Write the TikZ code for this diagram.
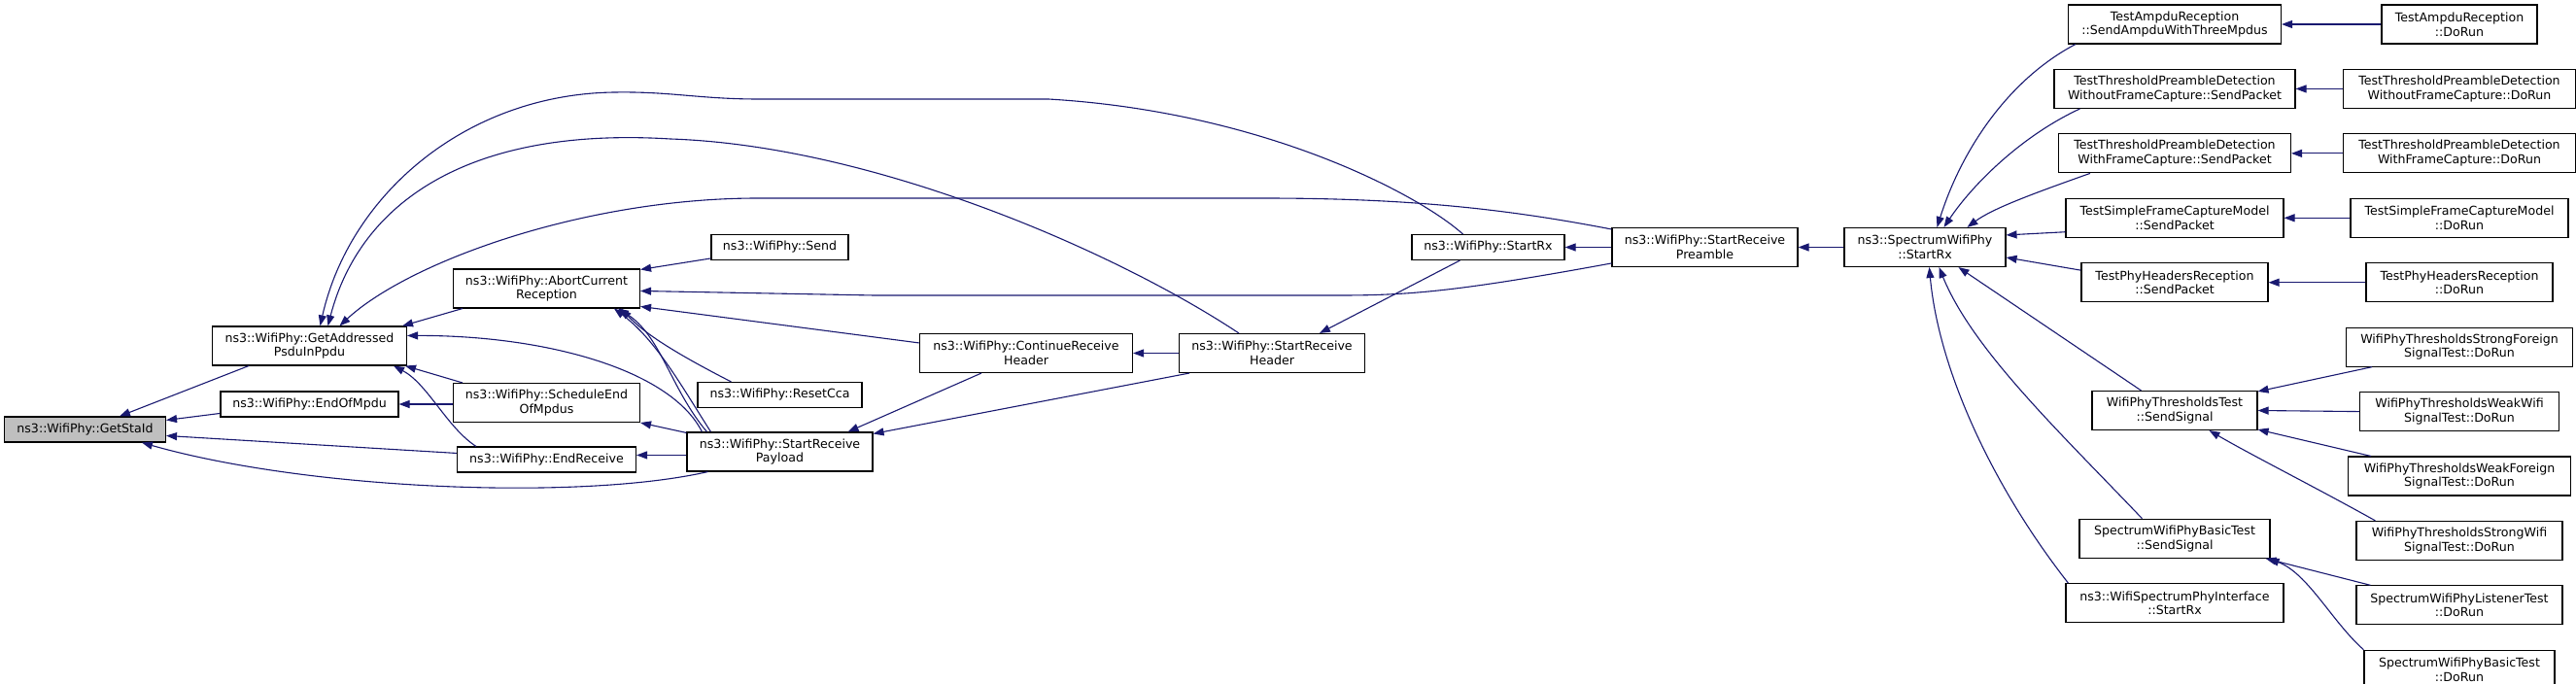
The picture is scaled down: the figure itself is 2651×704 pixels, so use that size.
\documentclass[tikz,border=0pt]{standalone}
\usepackage{fontspec}
\setmainfont{DejaVu Sans}
\usetikzlibrary{arrows.meta,positioning}
\definecolor{edgeblue}{HTML}{191970}
\definecolor{focusgray}{HTML}{BFBFBF}

\begin{document}
\begin{tikzpicture}[x=1pt, y=-1pt, node distance=25.33pt,
  fn/.style={draw=black, line width=1.1pt, fill=white, rectangle, inner sep=0pt, align=center,
    minimum height=26pt, minimum width=#1, font=\fontsize{12.6pt}{14.7pt}\selectfont},
  fn2/.style={fn=#1, minimum height=40pt},
  calls/.style={->, >={Triangle[length=11pt,width=8pt]}, draw=edgeblue, line width=1.1pt}]
  \useasboundingbox (0,0) rectangle (2651,704);

  % ns3::WifiPhy side
  \node[fn=166pt, fill=focusgray] (sta) at (87.5,442) {ns3::WifiPhy::GetStaId};
  \node[fn2=200pt] (gap) at (318.5,356) {ns3::WifiPhy::GetAddressed\\PsduInPpdu};
  \node[fn=183pt] (eom) at (318.5,416) {ns3::WifiPhy::EndOfMpdu};
  \node[fn2=192pt] (abort) at (562.5,297) {ns3::WifiPhy::AbortCurrent\\Reception};
  \node[fn2=192pt] (sched) at (562.5,414.5) {ns3::WifiPhy::ScheduleEnd\\OfMpdus};
  \node[fn=184pt] (endrx) at (562.5,473) {ns3::WifiPhy::EndReceive};
  \node[fn=141pt] (send) at (802.5,254.5) {ns3::WifiPhy::Send};
  \node[fn=169pt] (reset) at (802.5,406.5) {ns3::WifiPhy::ResetCca};
  \node[fn2=191pt] (srpay) at (802.5,465) {ns3::WifiPhy::StartReceive\\Payload};
  \node[fn2=219pt] (cont) at (1056,363.5) {ns3::WifiPhy::ContinueReceive\\Header};
  \node[fn2=191pt] (srhdr) at (1309,363.5) {ns3::WifiPhy::StartReceive\\Header};
  \node[fn=157pt] (wrx) at (1531.5,254.5) {ns3::WifiPhy::StartRx};
  \node[fn2=191pt] (srpre) at (1754.5,254.5) {ns3::WifiPhy::StartReceive\\Preamble};
  \node[fn2=166pt] (swrx) at (1981,254.5) {ns3::SpectrumWifiPhy\\::StartRx};

  % callers of SpectrumWifiPhy::StartRx
  \node[fn2=219pt] (ampduSend) at (2238,25) {TestAmpduReception\\::SendAmpduWithThreeMpdus};
  \node[fn2=248pt] (woSend) [below=of ampduSend] {TestThresholdPreambleDetection\\WithoutFrameCapture::SendPacket};
  \node[fn2=239pt] (wiSend) [below=of woSend] {TestThresholdPreambleDetection\\WithFrameCapture::SendPacket};
  \node[fn2=224pt] (sfcSend) [below=of wiSend] {TestSimpleFrameCaptureModel\\::SendPacket};
  \node[fn2=192pt] (phrSend) [below=of sfcSend] {TestPhyHeadersReception\\::SendPacket};
  \node[fn2=170pt] (thrSend) [below=90.67pt of phrSend] {WifiPhyThresholdsTest\\::SendSignal};
  \node[fn2=196pt] (swbSend) [below=90.67pt of thrSend] {SpectrumWifiPhyBasicTest\\::SendSignal};
  \node[fn2=224pt] (wspi) [below=of swbSend] {ns3::WifiSpectrumPhyInterface\\::StartRx};

  % DoRun column
  \node[fn2=160pt] (ampduRun) at (2531,25) {TestAmpduReception\\::DoRun};
  \node[fn2=239pt] (woRun) [below=of ampduRun] {TestThresholdPreambleDetection\\WithoutFrameCapture::DoRun};
  \node[fn2=239pt] (wiRun) [below=of woRun] {TestThresholdPreambleDetection\\WithFrameCapture::DoRun};
  \node[fn2=224pt] (sfcRun) [below=of wiRun] {TestSimpleFrameCaptureModel\\::DoRun};
  \node[fn2=192pt] (phrRun) [below=of sfcRun] {TestPhyHeadersReception\\::DoRun};
  \node[fn2=233pt] (sfRun) [below=of phrRun] {WifiPhyThresholdsStrongForeign\\SignalTest::DoRun};
  \node[fn2=205pt] (wwRun) [below=of sfRun] {WifiPhyThresholdsWeakWifi\\SignalTest::DoRun};
  \node[fn2=229pt] (wfRun) [below=of wwRun] {WifiPhyThresholdsWeakForeign\\SignalTest::DoRun};
  \node[fn2=212pt] (swRun) [below=of wfRun] {WifiPhyThresholdsStrongWifi\\SignalTest::DoRun};
  \node[fn2=212pt] (lisRun) [below=of swRun] {SpectrumWifiPhyListenerTest\\::DoRun};
  \node[fn2=196pt] (swbRun) [below=of lisRun] {SpectrumWifiPhyBasicTest\\::DoRun};

  % calls into GetStaId
  \draw[calls] ([xshift=38pt]gap.south west) -- ([xshift=119pt]sta.north west);
  \draw[calls] ([yshift=-23pt]eom.north west) -- ([yshift=-4pt]sta.north east);
  \draw[calls] ([yshift=-7pt]endrx.north west) -- ([yshift=-20pt]sta.north east);
  \draw[calls] ([xshift=22pt]srpay.south west) .. controls (600,515) and (320,505) .. ([xshift=142pt]sta.south west);

  % calls into GetAddressedPsduInPpdu
  \draw[calls] ([xshift=10pt]abort.south west) -- ([xshift=-5pt]gap.north east);
  \draw[calls] ([xshift=10pt]sched.north west) -- ([xshift=-2pt]gap.south east);
  \draw[calls] ([xshift=20pt]endrx.north west) .. controls (460,440) and (440,395) .. ([xshift=-14pt]gap.south east);
  \draw[calls] ([xshift=16pt]srpay.north west) .. controls (690,380) and (560,345) .. ([yshift=-10pt]gap.north east);
  \draw[calls] ([yshift=-2pt]srpre.north west) .. controls (1550,215) and (1450,204) .. (1300,204)
    -- (780,204) .. controls (600,204) and (420,270) .. ([xshift=131.5pt]gap.north west);
  \draw[calls] ([xshift=62pt]srhdr.north west) .. controls (1150,260) and (900,150) .. (690,143)
    .. controls (480,130) and (370,210) .. ([xshift=119.5pt]gap.north west);
  \draw[calls] ([xshift=53pt]wrx.north west) .. controls (1460,200) and (1300,115) .. (1079,102)
    -- (781,102) .. controls (720,102) and (690,94) .. (632,95)
    .. controls (480,97) and (360,200) .. ([xshift=111.5pt]gap.north west);

  % calls into AbortCurrentReception
  \draw[calls] ([yshift=-37pt]srpre.north west) .. controls (1500,300) and (1450,304) .. (1378,304)
    -- (900,304) -- ([yshift=-23pt]abort.north east);
  \draw[calls] ([yshift=-25pt]send.north west) -- ([yshift=-1pt]abort.north east);
  \draw[calls] ([yshift=-10pt]cont.north west) -- ([yshift=-39pt]abort.north east);
  \draw[calls] ([xshift=35pt]reset.north west) .. controls (700,366) and (665,345) .. ([xshift=173pt]abort.south west);
  \draw[calls] ([xshift=21pt]srpay.north west) .. controls (690,400) and (680,345) .. ([xshift=170pt]abort.south west);
  \draw[calls] ([xshift=25pt]srpay.north west) .. controls (700,395) and (675,350) .. ([xshift=166pt]abort.south west);

  % the remaining WifiPhy calls
  \draw[calls] (sched.west |- eom.east) -- (eom.east);
  \draw[calls] ([yshift=-1pt]srpay.north west) -- (sched.south east);
  \draw[calls] ([yshift=-24pt]srpay.north west) -- ([yshift=-9pt]endrx.north east);
  \draw[calls] ([xshift=64pt]cont.south west) -- ([xshift=-26pt]srpay.north east);
  \draw[calls] ([xshift=11pt]srhdr.south west) -- ([yshift=-2pt]srpay.north east);
  \draw[calls] (srhdr.west) -- (cont.east);
  \draw[calls] ([xshift=50pt]wrx.south west) -- ([xshift=145pt]srhdr.north west);
  \draw[calls] (srpre.west) -- (wrx.east);
  \draw[calls] (swrx.west) -- (srpre.east);

  % calls into SpectrumWifiPhy::StartRx
  \draw[calls] ([xshift=8pt]ampduSend.south west) .. controls (2070,80) and (2020,150) .. ([xshift=96pt]swrx.north west);
  \draw[calls] ([xshift=27pt]woSend.south west) .. controls (2080,140) and (2030,190) .. ([xshift=103pt]swrx.north west);
  \draw[calls] ([xshift=33pt]wiSend.south west) .. controls (2090,200) and (2050,215) .. ([xshift=127pt]swrx.north west);
  \draw[calls] ([yshift=-35pt]sfcSend.north west) -- ([yshift=-8pt]swrx.north east);
  \draw[calls] ([yshift=-8pt]phrSend.north west) -- ([yshift=-31pt]swrx.north east);
  \draw[calls] ([xshift=51pt]thrSend.north west) -- ([xshift=118pt]swrx.south west);
  \draw[calls] ([xshift=65pt]swbSend.north west) .. controls (2120,445) and (2030,360) .. ([xshift=98pt]swrx.south west);
  \draw[calls] ([xshift=3pt]wspi.north west) .. controls (2050,500) and (1995,380) .. ([xshift=88pt]swrx.south west);

  % DoRun callers
  \draw[calls] (ampduRun.west) -- (ampduSend.east);
  \draw[calls] (woRun.west) -- (woSend.east);
  \draw[calls] (wiRun.west) -- (wiSend.east);
  \draw[calls] (sfcRun.west) -- (sfcSend.east);
  \draw[calls] (phrRun.west) -- (phrSend.east);
  \draw[calls] ([xshift=27pt]sfRun.south west) -- ([yshift=-1pt]thrSend.north east);
  \draw[calls] (wwRun.west) -- (thrSend.east);
  \draw[calls] ([xshift=24pt]wfRun.north west) -- ([yshift=1pt]thrSend.south east);
  \draw[calls] ([xshift=20pt]swRun.north west) .. controls (2380,500) and (2320,470) .. ([xshift=121pt]thrSend.south west);
  \draw[calls] ([xshift=15pt]lisRun.north west) -- ([xshift=-5pt]swbSend.south east);
  \draw[calls] (swbRun.north west) .. controls (2400,640) and (2375,590) .. ([xshift=-2pt]swbSend.south east);
\end{tikzpicture}
\end{document}
